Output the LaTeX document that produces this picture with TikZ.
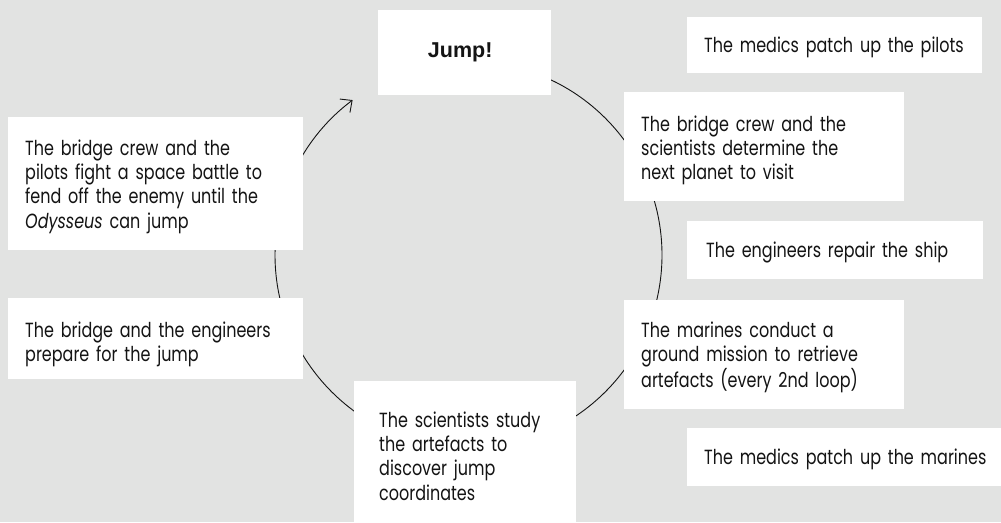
\documentclass[tikz,border=0pt]{standalone}
\usepackage{fontspec}
\setmainfont{Poppins}[FakeStretch=0.78,WordSpace=0.8]
\newfontfamily\jumpfont{Liberation Sans}
\usetikzlibrary{arrows.meta}
\definecolor{bg}{RGB}{226,227,226}
\definecolor{ink}{RGB}{20,20,20}
\newcommand{\boxtext}[2][3pt]{\raisebox{-#1}[\height][\depth]{\begin{tabular}{@{}l@{}}#2\end{tabular}}}
\begin{document}
\begin{tikzpicture}[x=1pt,y=-1pt,
  box/.style={fill=white, draw=none, inner xsep=17pt, inner ysep=0pt, align=left,
    anchor=north west, text=ink, font=\fontsize{20.5}{24.3}\selectfont},
  loop/.style={draw=ink, line width=0.9pt, -{Straight Barb[length=9pt,width=17pt,line width=0.9pt]}}]
\fill[bg] (0,0) rectangle (1001,522);
\useasboundingbox (0,0) rectangle (1001,522);
\coordinate (c) at (468.5,255);
\draw[loop] (c) ++(-90:193.5) arc[start angle=-90, end angle=233.2, radius=193.5];
\node[box, text width=139pt, minimum height=85pt, align=center, font=\jumpfont\bfseries\fontsize{21.5}{24}\selectfont] (jump) at (378,10) {\hspace*{-9pt}Jump!};
\node[box, text width=261pt, minimum height=133pt] (fight) at (8,117)
  {\boxtext{The bridge crew and the\\pilots fight a space battle to\\fend off the enemy until the\\\textit{Odysseus} can jump}};
\node[box, text width=261pt, minimum height=56pt] (medpil) at (687,17)
  {\boxtext[2pt]{The medics patch up the pilots}};
\node[box, text width=246pt, minimum height=109pt] (plan) at (624,92)
  {\boxtext[4pt]{The bridge crew and the\\scientists determine the\\next planet to visit}};
\node[box, inner xsep=19pt, text width=258pt, minimum height=58pt] (repair) at (687,221)
  {\boxtext[2pt]{The engineers repair the ship}};
\node[box, text width=246pt, minimum height=109pt] (marines) at (624,300)
  {\boxtext{The marines conduct a\\ground mission to retrieve\\artefacts (every 2nd loop)}};
\node[box, text width=296pt, minimum height=58pt] (medmar) at (687,428)
  {\boxtext[2pt]{The medics patch up the marines}};
\node[box, text width=261pt, minimum height=81pt] (prep) at (8,298)
  {\boxtext[6pt]{The bridge and the engineers\\prepare for the jump}};
\node[box, inner xsep=25pt, text width=172pt, minimum height=150pt] (study) at (354,381)
  {\boxtext[2.5pt]{The scientists study\\the artefacts to\\discover jump\\coordinates}};
\end{tikzpicture}
\end{document}
